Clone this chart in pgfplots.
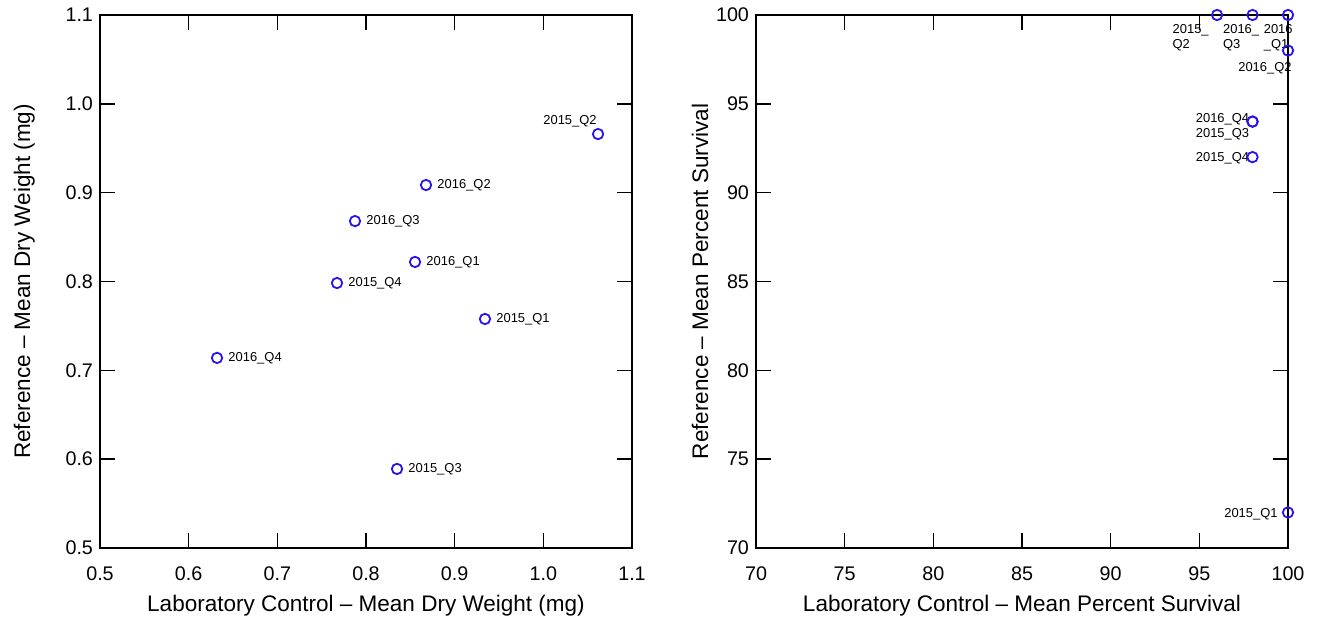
\documentclass[border=0pt]{standalone}
\usepackage{pgfplots}
\pgfplotsset{compat=1.18}
\usepackage{fontspec}
\setmainfont{Liberation Sans}
\definecolor{ptblue}{RGB}{40,20,240}
\pgfplotsset{
  every axis/.style={
    scale only axis,
    width=266bp, height=266.5bp,
    anchor=south west,
    axis line style={line width=1bp},
    tick align=inside,
    major tick length=7.5bp,
    every tick/.style={black, line width=0.8bp},
    tick label style={font=\fontsize{9.9}{11}\selectfont},
    xticklabel style={yshift=-6bp},
    label style={font=\fontsize{11.3}{13}\selectfont},
    /pgf/number format/assume math mode=true,
    xlabel style={yshift=0bp},
  },
}
\newcommand{\pl}{\fontsize{6.5}{7.5}\selectfont}
\begin{document}
\begin{tikzpicture}
\path[use as bounding box] (-50bp,-38bp) rectangle (614.5bp,274bp);
\begin{axis}[
  at={(0,0)},
  xmin=0.5, xmax=1.1, ymin=0.5, ymax=1.1,
  xtick={0.5,0.6,...,1.1}, ytick={0.5,0.6,...,1.1},
  xticklabel style={/pgf/number format/.cd, fixed, fixed zerofill, precision=1},
  yticklabel style={/pgf/number format/.cd, fixed, fixed zerofill, precision=1},
  xlabel={Laboratory Control – Mean Dry Weight (mg)},
  ylabel={Reference – Mean Dry Weight (mg)},
  ylabel style={yshift=8.5bp},
  clip=false,
]
\addplot[only marks, mark=o, mark size=2.6bp, ptblue, line width=0.9bp] coordinates {
(1.0617,0.966) (0.8677,0.9086) (0.7876,0.868) (0.8553,0.822)
(0.7673,0.7983) (0.9342,0.7578) (0.632,0.714) (0.835,0.589)
};
\node[anchor=south east, font=\pl, inner sep=0pt, xshift=-0.5bp, yshift=3.5bp] at (axis cs:1.0617,0.966) {2015\_Q2};
\node[anchor=west, font=\pl, inner sep=0pt, xshift=5.5bp] at (axis cs:0.8677,0.9086) {2016\_Q2};
\node[anchor=west, font=\pl, inner sep=0pt, xshift=5.5bp] at (axis cs:0.7876,0.868) {2016\_Q3};
\node[anchor=west, font=\pl, inner sep=0pt, xshift=5.5bp] at (axis cs:0.8553,0.822) {2016\_Q1};
\node[anchor=west, font=\pl, inner sep=0pt, xshift=5.5bp] at (axis cs:0.7673,0.7983) {2015\_Q4};
\node[anchor=west, font=\pl, inner sep=0pt, xshift=5.5bp] at (axis cs:0.9342,0.7578) {2015\_Q1};
\node[anchor=west, font=\pl, inner sep=0pt, xshift=5.5bp] at (axis cs:0.632,0.714) {2016\_Q4};
\node[anchor=west, font=\pl, inner sep=0pt, xshift=5.5bp] at (axis cs:0.835,0.589) {2015\_Q3};
\end{axis}
\begin{axis}[
  at={(328bp,0)},
  xmin=70, xmax=100, ymin=70, ymax=100,
  xtick={70,75,...,100}, ytick={70,75,...,100},
  xlabel={Laboratory Control – Mean Percent Survival},
  ylabel={Reference – Mean Percent Survival},
  ylabel style={yshift=-3bp},
  clip=false,
]
\addplot[only marks, mark=o, mark size=2.6bp, ptblue, line width=0.9bp] coordinates {
(96,100) (98,100) (100,100) (100,98) (98,94) (98,94) (98,92) (100,72)
};
\node[anchor=north east, font=\pl, inner sep=0pt, align=left, xshift=-4bp, yshift=-4.5bp] at (axis cs:96,100) {2015\_\\Q2};
\node[anchor=north east, font=\pl, inner sep=0pt, align=left, xshift=3.5bp, yshift=-4.5bp] at (axis cs:98,100) {2016\_\\Q3};
\node[anchor=north east, font=\pl, inner sep=0pt, align=left, xshift=2.5bp, yshift=-4.5bp] at (axis cs:100,100) {2016\\\_Q1};
\node[anchor=north east, font=\pl, inner sep=0pt, xshift=2bp, yshift=-6bp] at (axis cs:100,98) {2016\_Q2};
\node[anchor=east, font=\pl, inner sep=0pt, xshift=-1.5bp, yshift=1bp] at (axis cs:98,94) {2016\_Q4};
\node[anchor=east, font=\pl, inner sep=0pt, xshift=-1.5bp, yshift=-6.5bp] at (axis cs:98,94) {2015\_Q3};
\node[anchor=east, font=\pl, inner sep=0pt, xshift=-1.5bp, yshift=-0.5bp] at (axis cs:98,92) {2015\_Q4};
\node[anchor=east, font=\pl, inner sep=0pt, xshift=-5bp, yshift=-1bp] at (axis cs:100,72) {2015\_Q1};
\end{axis}
\end{tikzpicture}
\end{document}
